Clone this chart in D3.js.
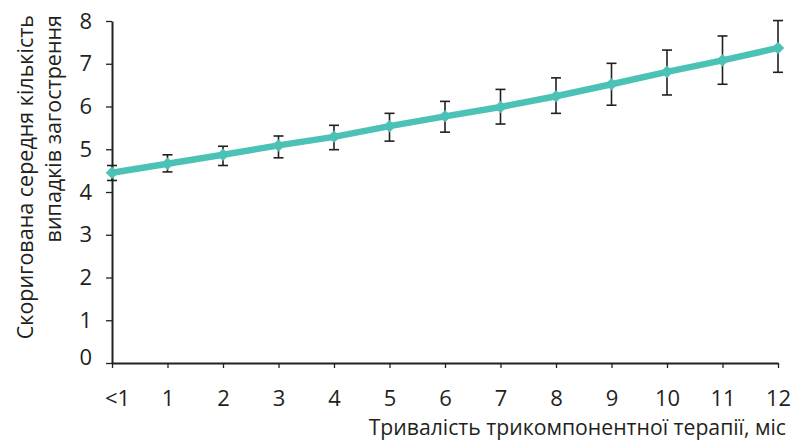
<!DOCTYPE html>
<html>
<head>
<meta charset="utf-8">
<script src="https://cdn.jsdelivr.net/npm/d3@7"></script>
<style>
  body { margin: 0; background: #fff; }
  text { font-family: "Open Sans", sans-serif; fill: #231f20; }
</style>
</head>
<body>
<svg id="chart" width="793" height="441"></svg>
<script>
// data
let categories = ["<1", "1", "2", "3", "4", "5", "6", "7", "8", "9", "10", "11", "12"];
let means = [4.45, 4.66, 4.87, 5.09, 5.29, 5.54, 5.77, 5.99, 6.24, 6.52, 6.81, 7.08, 7.37];
let upper = [4.62, 4.87, 5.07, 5.31, 5.56, 5.84, 6.12, 6.40, 6.67, 7.01, 7.32, 7.65, 8.01];
let lower = [4.27, 4.47, 4.62, 4.80, 4.99, 5.19, 5.40, 5.59, 5.84, 6.03, 6.27, 6.52, 6.80];
let yTicks = [0, 1, 2, 3, 4, 5, 6, 7, 8];

let yTitle = ["Скоригована середня кількість", "випадків загострення"];
let xTitle = "Тривалість трикомпонентної терапії, міс";

let data = categories.map(function(c, i) {
    return { cat: c, mean: means[i], hi: upper[i], lo: lower[i] };
});

let svg = d3.select("#chart"),
    pLeft = 112, pTop = 21, pRight = 778, pBottom = 363;

let x = d3.scalePoint().domain(categories).range([pLeft, pRight]),
    y = d3.scaleLinear().domain([0, 8]).range([pBottom, pTop]);

let lineColor = "#4bc2b5",
    ink = "#231f20";

// y axis
let yAxis = svg.append("g")
    .attr("transform", "translate(" + pLeft + ",0)")
    .call(d3.axisLeft(y).tickValues(yTicks).tickSize(6).tickPadding(14).tickSizeOuter(0));
yAxis.select(".domain").attr("stroke", ink).attr("stroke-width", 2);
yAxis.selectAll(".tick line").attr("stroke", ink).attr("stroke-width", 1.3);
yAxis.selectAll("text").attr("font-size", "22px").attr("fill", ink)
    .attr("font-family", "'Open Sans', sans-serif");
// the 0 label sits a little higher, clear of the x axis
yAxis.selectAll(".tick text").filter(function(d) { return d === 0; }).attr("dy", "0.08em");

// x axis
let xAxis = svg.append("g")
    .attr("transform", "translate(0," + pBottom + ")")
    .call(d3.axisBottom(x).tickSize(5).tickPadding(22).tickSizeOuter(0));
xAxis.select(".domain").attr("stroke", ink).attr("stroke-width", 2);
xAxis.selectAll(".tick line").attr("stroke", ink).attr("stroke-width", 1.3);
xAxis.selectAll("text").attr("font-size", "22px").attr("fill", ink)
    .attr("font-family", "'Open Sans', sans-serif");
xAxis.selectAll(".tick text").filter(function(d) { return d === "<1"; }).attr("dx", 5);

// error bars
let err = svg.append("g").attr("stroke", ink).attr("stroke-width", 1.6);
err.selectAll(".whisker")
    .data(data)
    .enter().append("line")
    .attr("x1", function(d) { return x(d.cat); })
    .attr("x2", function(d) { return x(d.cat); })
    .attr("y1", function(d) { return y(d.lo); })
    .attr("y2", function(d) { return y(d.hi); });
["hi", "lo"].forEach(function(k) {
    err.selectAll(".cap-" + k)
        .data(data)
        .enter().append("line")
        .attr("x1", function(d) { return x(d.cat) - 5; })
        .attr("x2", function(d) { return x(d.cat) + 5; })
        .attr("y1", function(d) { return y(d[k]); })
        .attr("y2", function(d) { return y(d[k]); });
});

// mean line
let line = d3.line()
    .x(function(d) { return x(d.cat); })
    .y(function(d) { return y(d.mean); });

svg.append("path")
    .datum(data)
    .attr("fill", "none")
    .attr("stroke", lineColor)
    .attr("stroke-width", 6.5)
    .attr("d", line);

// diamond markers
svg.selectAll(".marker")
    .data(data)
    .enter().append("path")
    .attr("class", "marker")
    .attr("fill", lineColor)
    .attr("d", d3.symbol().type(d3.symbolDiamond2).size(100))
    .attr("transform", function(d) { return "translate(" + x(d.cat) + "," + y(d.mean) + ")"; });

// titles
svg.selectAll(".ytitle")
    .data(yTitle)
    .enter().append("text")
    .attr("class", "ytitle")
    .attr("font-size", "21.5px")
    .attr("text-anchor", "end")
    .attr("dy", "0.35em")
    .attr("transform", function(d, i) { return "translate(" + (25 + i * 28) + ",15) rotate(-90)"; })
    .text(function(d) { return d; });

svg.append("text")
    .attr("x", 786)
    .attr("y", 435)
    .attr("font-size", "21.2px")
    .attr("text-anchor", "end")
    .text(xTitle);
</script>
</body>
</html>
